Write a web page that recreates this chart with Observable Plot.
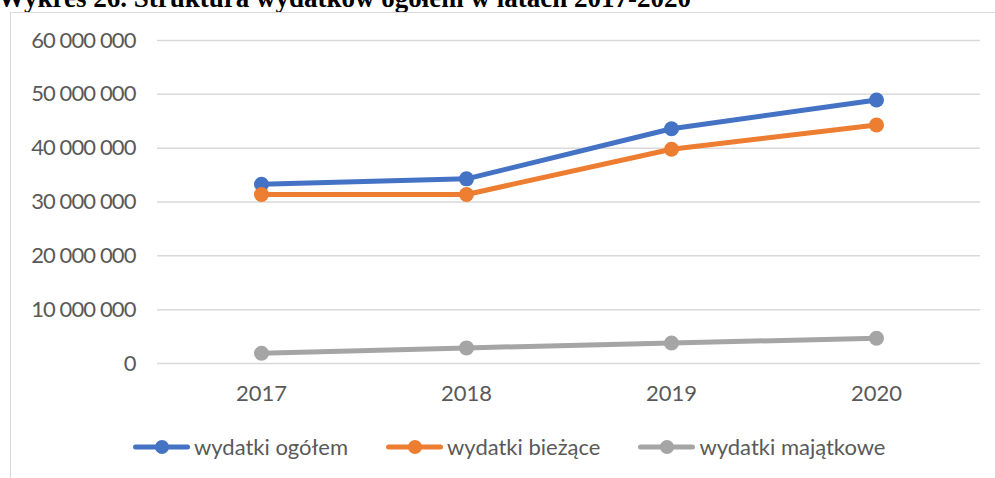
<!DOCTYPE html>
<html>
<head>
<meta charset="utf-8">
<script src="https://cdn.jsdelivr.net/npm/d3@7"></script>
<script src="https://cdn.jsdelivr.net/npm/@observablehq/plot@0.6"></script>
<style>
  html, body { margin: 0; padding: 0; background: #fff; width: 995px; height: 478px; overflow: hidden; position: relative; }
  #title { position: absolute; left: -2px; top: -15px; font-family: "Liberation Serif", serif; font-weight: bold; font-size: 27px; line-height: 27px; color: #000; white-space: nowrap; }
  #frame { position: absolute; left: 10px; top: 12px; width: 1000px; height: 480px; border: 1.5px solid #d9d9d9; box-sizing: border-box; }
  #chart { position: absolute; left: 0; top: 0; }
  #legend { position: absolute; left: 133px; top: 433px; display: flex; justify-content: flex-start; font-family: Lato, sans-serif; font-size: 22px; color: #595959; }
  .item { display: flex; align-items: center; margin-right: 38px; }
  .item svg { margin-right: 4px; }
</style>
</head>
<body>
<div id="title">Wykres 26. Struktura wydatków ogółem w latach 2017-2020</div>
<div id="frame"></div>
<div id="chart"></div>
<div id="legend"></div>
<script>
const years = ["2017", "2018", "2019", "2020"];
const seriesNames = ["wydatki ogółem", "wydatki bieżące", "wydatki majątkowe"];
const ogolem   = [33300000, 34300000, 43600000, 48950000];
const biezace  = [31400000, 31400000, 39800000, 44300000];
const majatkowe = [1900000, 2900000, 3800000, 4700000];
const colors = ["#4472C4", "#ED7D31", "#A5A5A5"];
const yTicks = [0, 10000000, 20000000, 30000000, 40000000, 50000000, 60000000];

const allSeries = [ogolem, biezace, majatkowe];
const data = [];
allSeries.forEach((vals, si) => {
  vals.forEach((v, i) => data.push({ year: years[i], value: v, series: seriesNames[si] }));
});

const fmt = d3.formatLocale({ thousands: " ", grouping: [3], decimal: ",", currency: ["", ""] }).format(",d");

const plot = Plot.plot({
  width: 995,
  height: 400,
  marginLeft: 157,
  marginRight: 15,
  marginTop: 40,
  marginBottom: 37,
  style: { fontFamily: "Lato, sans-serif", fontSize: "22px", color: "#595959", background: "transparent", overflow: "visible" },
  x: { type: "point", domain: years, padding: 0.5, label: null },
  y: { domain: [0, 60000000], label: null },
  color: { domain: seriesNames, range: colors },
  marks: [
    Plot.ruleY(yTicks, { stroke: "#d9d9d9", strokeWidth: 1.5 }),
    Plot.axisY({ ticks: yTicks, tickFormat: fmt, tickSize: 0, tickPadding: 22, label: null, fill: "#595959" }),
    Plot.axisX({ tickSize: 0, tickPadding: 22, label: null, fill: "#595959" }),
    Plot.line(data, { x: "year", y: "value", z: "series", stroke: "series", strokeWidth: 5, strokeLinecap: "round", strokeLinejoin: "round" }),
    Plot.dot(data, { x: "year", y: "value", fill: "series", r: 7.5, stroke: "none" })
  ]
});
const yLabels = plot.querySelector('g[aria-label="y-axis tick label"]');
if (yLabels) yLabels.style.letterSpacing = "-0.9px";
document.getElementById("chart").appendChild(plot);

const legend = document.getElementById("legend");
seriesNames.forEach((name, i) => {
  const item = document.createElement("div");
  item.className = "item";
  item.innerHTML = `<svg width="57" height="20"><line x1="2.5" x2="54.5" y1="10" y2="10" stroke="${colors[i]}" stroke-width="5" stroke-linecap="round"/><circle cx="29" cy="10" r="7" fill="${colors[i]}"/></svg><span>${name}</span>`;
  legend.appendChild(item);
});
</script>
</body>
</html>
